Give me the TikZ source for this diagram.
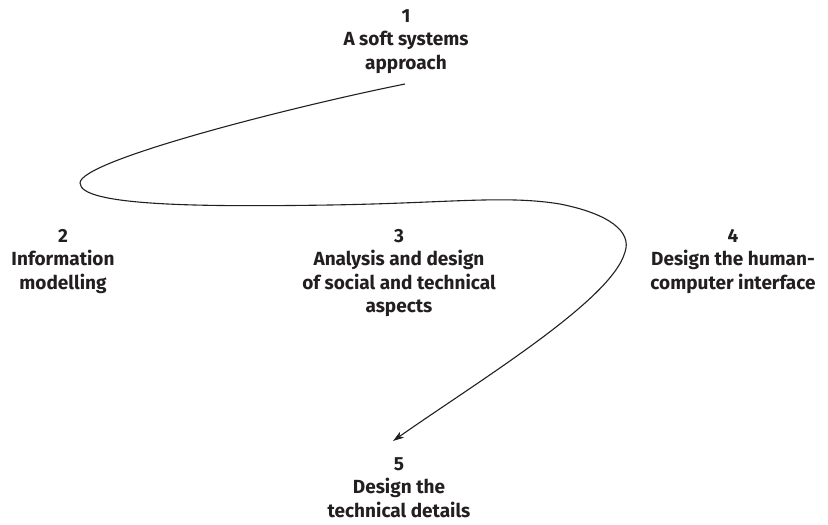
\documentclass[tikz,border=0pt]{standalone}
\usepackage{fontspec}
\setmainfont{Fira Sans}
\usetikzlibrary{arrows.meta}
\definecolor{ink}{HTML}{231F20}
\begin{document}
\begin{tikzpicture}[x=1pt,y=-1pt,
  stage/.style={anchor=north,inner sep=0pt,align=center,text=ink,
    font=\fontsize{19}{23.5}\selectfont\bfseries},
  flow/.style={draw=ink,line width=1.1pt,
    -{Stealth[length=11pt,width=7pt,inset=3pt]}}]
\useasboundingbox (0,0) rectangle (828,525);

\node[stage] (s1) at (406,9)   {1\\A soft systems\\approach};
\node[stage] (s2) at (63,229)  {2\\Information\\modelling};
\node[stage] (s3) at (399,229) {3\\Analysis and design\\of social and technical\\aspects};
\node[stage] (s4) at (733,229) {4\\Design the human-\\computer interface};
\node[stage] (s5) at (399,457) {5\\Design the\\technical details};

\coordinate (from) at (405,84);
\coordinate (to) at (393,441);

\draw[flow] (from)
  .. controls (300,105) and (80,160) .. (80,183)
  .. controls (80,206) and (200,207) .. (330,205)
  .. controls (450,203) and (505,195) .. (560,204)
  .. controls (610,214) and (632,232) .. (625,252)
  .. controls (612,300) and (480,380) .. (to);
\end{tikzpicture}
\end{document}
